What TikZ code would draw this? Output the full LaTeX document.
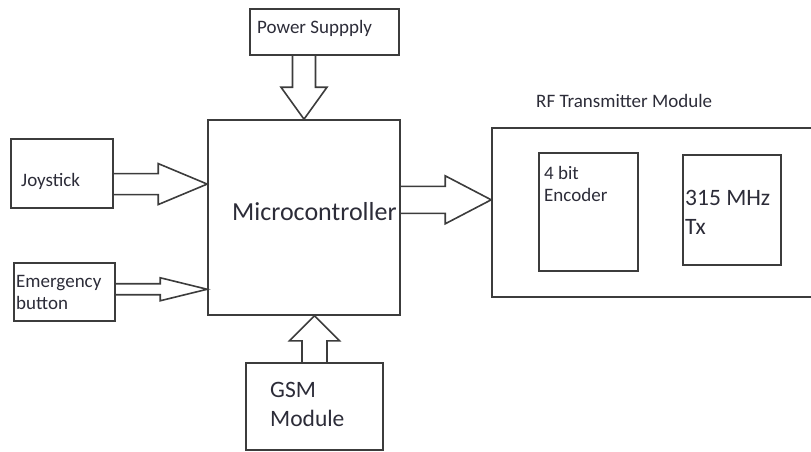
\documentclass[tikz,border=0pt]{standalone}
\usepackage{fontspec}
\setmainfont{Carlito}
\usetikzlibrary{calc}

\definecolor{edge}{HTML}{3C3C3C}
\definecolor{ink}{HTML}{2C2C38}

% hollow block arrow: from, to, shaft half width, head half width, head length
\newcommand{\hollowarrow}[5]{%
\coordinate (neck) at ($(#2)!#5!(#1)$);
\draw[fat] ($(#1)!#3!90:(#2)$) -- ($(neck)!#3!90:(#2)$) -- ($(neck)!#4!90:(#2)$)
  -- (#2) -- ($(neck)!#4!-90:(#2)$) -- ($(neck)!#3!-90:(#2)$) -- ($(#1)!#3!-90:(#2)$);
}

\begin{document}
\begin{tikzpicture}[x=1pt,y=-1pt,
  block/.style={draw=edge,line width=1.6pt,rectangle,inner sep=0pt},
  fat/.style={draw=edge,line width=1.6pt,line join=miter},
  txt/.style={text=ink,inner sep=0pt,align=left,anchor=base west,font=\fontsize{19}{21.5}\selectfont},
  bigtxt/.style={txt,font=\fontsize{23.5}{29}\selectfont}]

\useasboundingbox (0,0) rectangle (811,452);
\clip (0,0) rectangle (811,452);

% boxes
\node[block,minimum width=149pt,minimum height=46pt] (pwr) at (324.5,32) {};
\node[block,minimum width=192pt,minimum height=195pt] (mcu) at (304,217.5) {};
\node[block,minimum width=102pt,minimum height=69pt] (joy) at (62,173.5) {};
\node[block,minimum width=101pt,minimum height=58pt] (emg) at (64.5,292) {};
\node[block,minimum width=137pt,minimum height=87pt] (gsm) at (314.5,406.5) {};
\node[block,minimum width=340pt,minimum height=169pt] (rf) at (662,212.5) {};
\node[block,minimum width=99pt,minimum height=118pt] (enc) at (588.5,212) {};
\node[block,minimum width=98pt,minimum height=110pt] (tx) at (732,210) {};

% labels (placed on their last baseline)
\node[txt] (pwr-lbl) at (257,34) {Power Suppply};
\node[txt,font=\fontsize{26}{30}\selectfont] (mcu-lbl) at (232,220) {Microcontroller};
\node[txt] (joy-lbl) at (21,186) {Joystick};
\node[txt] (emg-lbl) at (16,309) {Emergency\\button};
\node[bigtxt] (gsm-lbl) at (270,426) {GSM\\Module};
\node[txt] (rf-lbl) at (536,107) {RF Transmitter Module};
\node[txt] (enc-lbl) at (544,201) {4 bit\\Encoder};
\node[bigtxt] (tx-lbl) at (685,234) {315 MHz\\Tx};

% arrow ends
\coordinate (pwr-in) at (mcu.north);
\coordinate (pwr-out) at (pwr.south -| pwr-in);
\coordinate (joy-in) at ($(mcu.north west)!0.33!(mcu.south west)$);
\coordinate (joy-out) at (joy.east |- joy-in);
\coordinate (emg-in) at ($(mcu.north west)!0.865!(mcu.south west)$);
\coordinate (emg-out) at (emg.east |- emg-in);
\coordinate (mcu-out) at ($(mcu.north east)!0.41!(mcu.south east)$);
\coordinate (rf-in) at (rf.west |- mcu-out);
\coordinate (gsm-in) at (gsm.north |- mcu.south);

\hollowarrow{pwr-out}{pwr-in}{11.5pt}{23pt}{32pt}
\hollowarrow{joy-out}{joy-in}{10.5pt}{20.5pt}{49pt}
\hollowarrow{emg-out}{emg-in}{5.5pt}{11.5pt}{47pt}
\hollowarrow{mcu-out}{rf-in}{13.5pt}{24pt}{46pt}
\hollowarrow{gsm.north}{gsm-in}{12.5pt}{25pt}{25pt}
\end{tikzpicture}
\end{document}
